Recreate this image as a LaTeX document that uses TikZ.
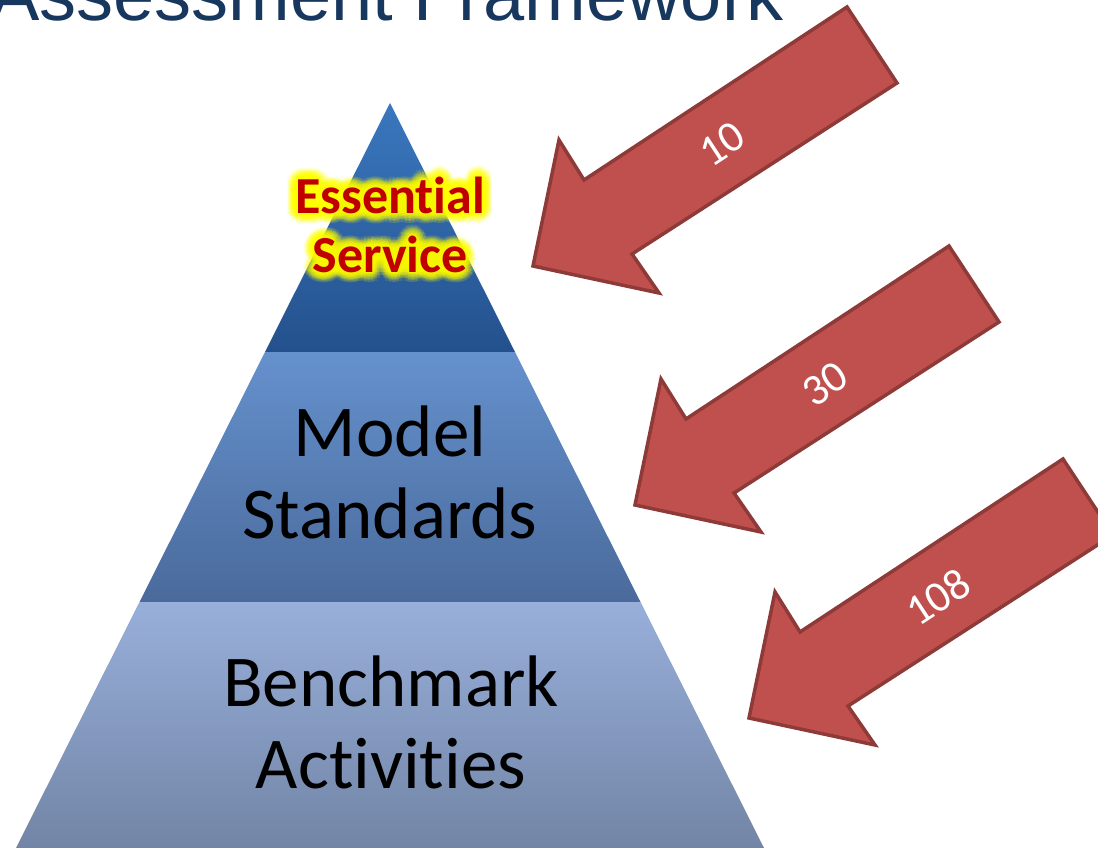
\documentclass[tikz,border=0pt]{standalone}
\usepackage{fontspec}
\setmainfont{Carlito}[Ligatures=NoCommon]
\newfontfamily\titlefont{Liberation Sans}
\definecolor{titleblue}{HTML}{17375E}
\definecolor{topA}{HTML}{3A77BE}
\definecolor{topB}{HTML}{24518D}
\definecolor{midA}{HTML}{6591CD}
\definecolor{midB}{HTML}{4A6A9B}
\definecolor{botA}{HTML}{98AFDA}
\definecolor{botB}{HTML}{7285A6}
\definecolor{arrowfill}{HTML}{C0504D}
\definecolor{arrowline}{HTML}{8E3A38}
\definecolor{essred}{HTML}{C00000}
\definecolor{glowyellow}{HTML}{FFFF00}
\tikzset{
  redarrow/.style={fill=arrowfill, draw=arrowline, line width=3.5pt, line join=miter},
  arrowlabel/.style={text=white, inner sep=0pt, rotate=33.3, font=\fontsize{44}{44}\selectfont},
  bandtext/.style={inner sep=0pt, align=center, anchor=base, font=\fontsize{73}{82}\selectfont},
  esstext/.style={inner sep=0pt, align=center, anchor=base, font=\fontsize{52}{59}\selectfont\bfseries},
  esglow/.style={esstext, text=glowyellow, opacity=0.11},
  pics/bigarrow/.style={code={
    \draw[redarrow] (0,0) -- (26,-126) -- (51,-86) -- (314,-259) -- (364,-183) -- (99,-12) -- (126,27) -- cycle;
  }}
}
\begin{document}
\begin{tikzpicture}[x=1pt,y=-1pt]
\useasboundingbox (0,0) rectangle (1098,848);
\fill[white] (0,0) rectangle (1098,848);

% title
\node[anchor=base west, inner sep=0pt, text=titleblue, font=\titlefont\fontsize{74}{80}\selectfont] (title) at (-10,21) {Assessment Framework};

% pyramid bands
\shade[top color=topA, bottom color=topB] (390,103) -- (515,352) -- (265,352) -- cycle;
\shade[top color=midA, bottom color=midB] (265,352) -- (515,352) -- (640.5,602) -- (139.5,602) -- cycle;
\shade[top color=botA, bottom color=botB] (139.5,602) -- (640.5,602) -- (764,848) -- (16,848) -- cycle;

% essential service with glow
\coordinate (essc) at (390,272);
\foreach \r [count=\j] in {1.5,3,4.5,6,7.5,9,10.5}{
  \foreach \a [count=\i] in {0,20,...,340}{
    \node[esglow, shift={(\a:\r)}] (glow\j-\i) at (essc) {Essential\\Service};
  }
}
\node[esstext, text=essred] (ess) at (essc) {Essential\\Service};

% band labels
\node[bandtext] (model) at (390,538) {Model\\Standards};
\node[bandtext] (bench) at (391,788) {Benchmark\\Activities};

% arrows
\pic at (533,266) {bigarrow};
\pic at (635,505) {bigarrow};
\pic at (749,718) {bigarrow};
\node[arrowlabel] (n10) at (722,144) {10};
\node[arrowlabel] (n30) at (825,384) {30};
\node[arrowlabel] (n108) at (938,597) {108};
\end{tikzpicture}
\end{document}
